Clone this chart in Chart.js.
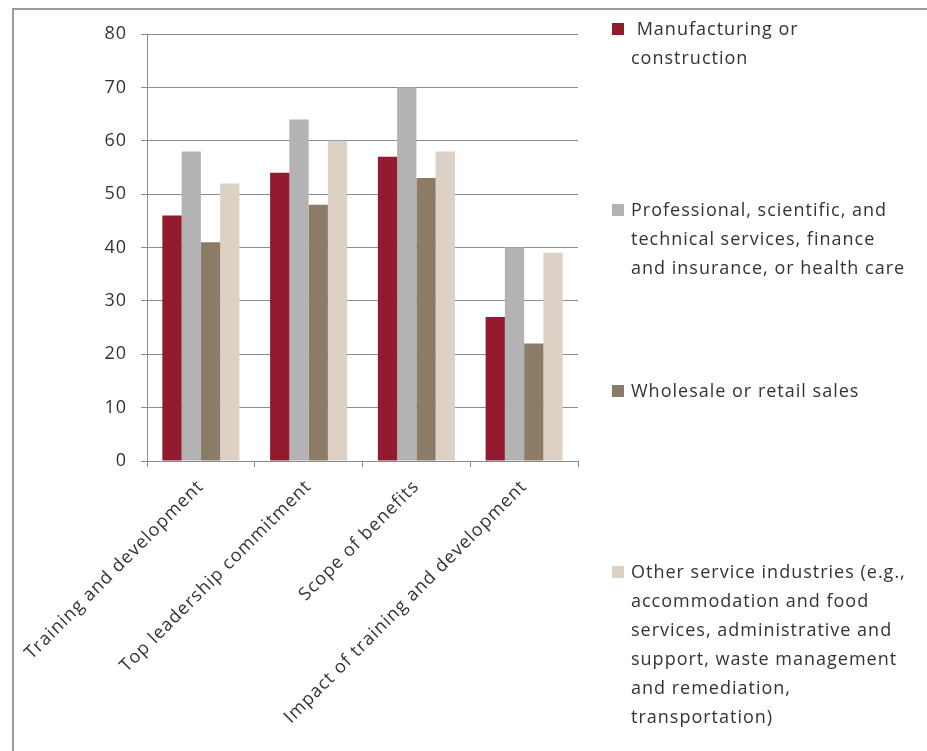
<!DOCTYPE html>
<html>
<head>
<meta charset="utf-8">
<script src="https://cdn.jsdelivr.net/npm/chart.js@4.4.0/dist/chart.umd.min.js"></script>
<style>
  body { margin: 0; background: #fff; font-family: "Open Sans", sans-serif; }
  #wrap { position: relative; width: 927px; height: 751px; overflow: hidden; }
  #frame { position: absolute; left: 12px; top: 8px; right: -5px; bottom: -5px;
           border-left: 2px solid #9a9a9a; border-top: 2px solid #9a9a9a; }
  #chartBox { position: absolute; left: 0; top: 0; width: 600px; height: 751px; }
  #legend { position: absolute; left: 0; top: 0; width: 927px; height: 751px; }
  .item { position: absolute; left: 631px; font-size: 18px; letter-spacing: 1px; line-height: 29px; color: #333; white-space: nowrap; }
  .item .box { position: absolute; left: -19px; top: 9px; width: 12px; height: 12px; }
</style>
</head>
<body>
<div id="wrap">
  <div id="frame"></div>
  <div id="chartBox"><canvas id="chart"></canvas></div>
  <div id="legend"></div>
</div>
<script>
// categories and values
const categories = ["Training and development", "Top leadership commitment", "Scope of benefits", "Impact of training and development"];
const manufacturing = [46, 54, 57, 27];
const professional = [58, 64, 70, 40];
const wholesale = [41, 48, 53, 22];
const otherServices = [52, 60, 58, 39];
const yTicks = [0, 10, 20, 30, 40, 50, 60, 70, 80];

const seriesNames = [
    ["\u00a0Manufacturing or", "construction"],
    ["Professional, scientific, and", "technical services, finance", "and insurance, or health care"],
    ["Wholesale or retail sales"],
    ["Other service industries (e.g.,", "accommodation and food", "services, administrative and", "support, waste management", "and remediation,", "transportation)"]
];
const colors = ["#941a2f", "#b3b3b3", "#8c7b66", "#ddd0c5"];
const legendTops = [14, 195, 376, 557];

const seriesData = [manufacturing, professional, wholesale, otherServices];

// html legend, laid out like the original
const legend = document.getElementById("legend");
seriesNames.forEach((lines, i) => {
    const div = document.createElement("div");
    div.className = "item";
    div.style.top = legendTops[i] + "px";
    div.innerHTML = '<span class="box" style="background:' + colors[i] + '"></span>' + lines.join("<br>");
    legend.appendChild(div);
});

const gridColor = "#8c8c8c";
const font = { family: "'Open Sans', sans-serif", size: 18 };

// wider letter spacing on the canvas text, like the original
const spacing = {
    id: "spacing",
    beforeInit: (chart) => { chart.ctx.letterSpacing = "1px"; },
    beforeDraw: (chart) => { chart.ctx.letterSpacing = "1px"; }
};

new Chart(document.getElementById("chart"), {
    type: "bar",
    data: {
        labels: categories,
        datasets: seriesData.map((d, i) => ({
            label: seriesNames[i].join(" "),
            data: d,
            backgroundColor: colors[i],
            borderWidth: 0,
            barPercentage: 1,
            categoryPercentage: 0.715
        }))
    },
    plugins: [spacing],
    options: {
        responsive: true,
        maintainAspectRatio: false,
        animation: false,
        layout: { padding: { top: 34, left: 0, right: 22, bottom: 0 } },
        plugins: { legend: { display: false }, tooltip: { enabled: false } },
        scales: {
            x: {
                grid: { drawOnChartArea: false, color: gridColor, tickLength: 6, lineWidth: 1 },
                border: { color: gridColor },
                ticks: { color: "#333", font: font, maxRotation: 45, minRotation: 45, padding: 9, autoSkip: false },
                afterFit: (scale) => { scale.height = 290; }
            },
            y: {
                min: 0,
                max: 80,
                afterBuildTicks: (scale) => { scale.ticks = yTicks.map(v => ({ value: v })); },
                grid: { color: gridColor, tickLength: 6, lineWidth: 1 },
                border: { color: gridColor },
                ticks: { color: "#333", font: font, padding: 14 },
                afterFit: (scale) => { scale.width = 147; }
            }
        }
    }
});
</script>
</body>
</html>
